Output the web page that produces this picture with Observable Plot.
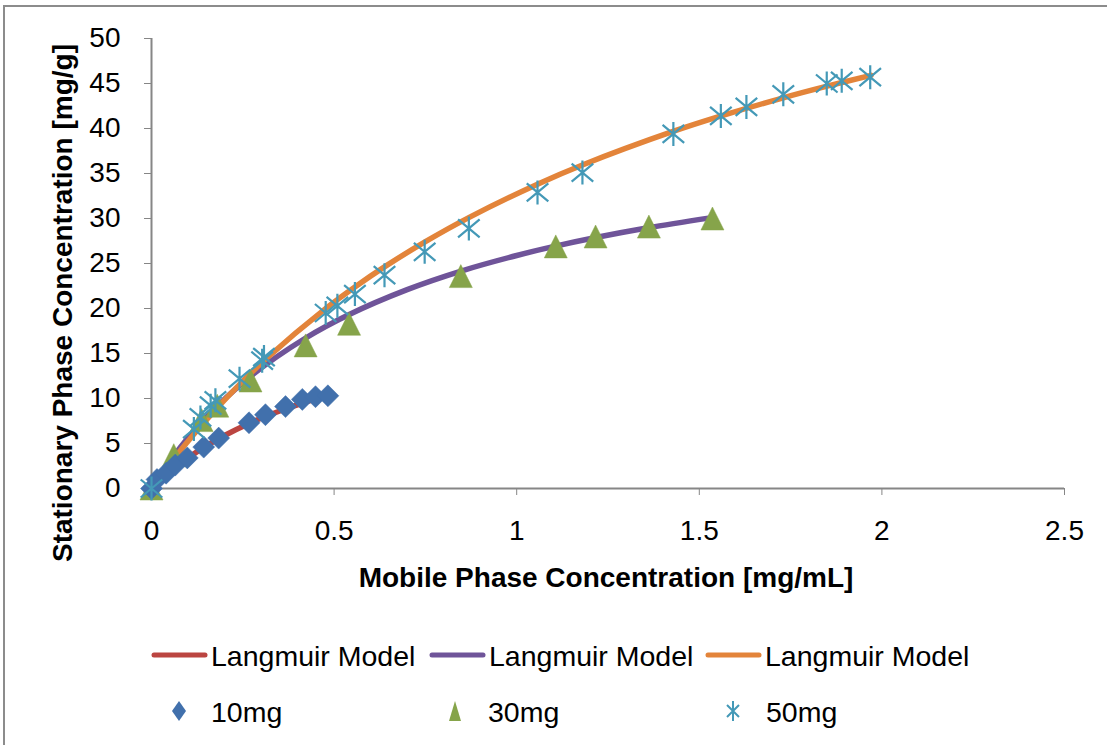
<!DOCTYPE html>
<html>
<head>
<meta charset="utf-8">
<script src="https://cdn.jsdelivr.net/npm/d3@7"></script>
<script src="https://cdn.jsdelivr.net/npm/@observablehq/plot@0.6"></script>
<style>
  html, body { margin: 0; padding: 0; background: #fff; }
  #wrap { position: relative; width: 1107px; height: 745px; overflow: hidden; background: #fff; font-family: "Liberation Sans", Arial, sans-serif; }
  #frame { position: absolute; left: 3px; top: 5px; width: 1110px; height: 750px; border-left: 2px solid #8c8c8c; border-top: 2px solid #8c8c8c; box-sizing: border-box; }
  #chart { position: absolute; left: 0; top: 0; }
  .leg { position: absolute; font-size: 28.5px; color: #000; line-height: 1; transform: translateY(-50%); white-space: nowrap; }
  .sw { position: absolute; overflow: visible; }
  #ytitle { position: absolute; left: 63px; top: 303px; font-size: 28px; font-weight: bold; color: #000; white-space: nowrap; line-height: 1; transform: translate(-50%, -50%) rotate(-90deg); }
</style>
</head>
<body>
<div id="wrap">
  <div id="frame"></div>
  <div id="chart"></div>
  <div id="ytitle">Stationary Phase Concentration [mg/g]</div>
  <div id="legend"></div>
</div>
<script>
// ---- data ----
const xTicks = [0, 0.5, 1, 1.5, 2, 2.5];
const yTicks = [0, 5, 10, 15, 20, 25, 30, 35, 40, 45, 50];

const mg10X = [0, 0.015, 0.04, 0.065, 0.098, 0.143, 0.184, 0.267, 0.312, 0.367, 0.413, 0.449, 0.483];
const mg10Y = [0, 1.0, 1.7, 2.6, 3.4, 4.6, 5.6, 7.3, 8.2, 9.1, 9.9, 10.2, 10.3];

const mg30X = [0, 0.061, 0.137, 0.18, 0.271, 0.422, 0.541, 0.847, 1.107, 1.216, 1.362, 1.536];
const mg30Y = [0, 3.7, 7.6, 9.2, 12.0, 15.9, 18.3, 23.6, 26.9, 28.0, 29.1, 30.0];

const mg50X = [0, 0.116, 0.134, 0.162, 0.175, 0.241, 0.303, 0.308, 0.477, 0.509, 0.557, 0.638, 0.748, 0.869, 1.057, 1.18, 1.429, 1.559, 1.629, 1.73, 1.849, 1.89, 1.968];
const mg50Y = [0, 6.6, 7.9, 9.2, 9.8, 12.2, 14.2, 14.6, 19.5, 20.3, 21.6, 23.7, 26.3, 28.9, 32.9, 35.1, 39.4, 41.4, 42.4, 43.8, 45.0, 45.3, 45.7];

const model10X = [0, 0.04, 0.1, 0.15, 0.2, 0.27, 0.31, 0.37, 0.41, 0.45, 0.48];
const model10Y = [0, 1.5, 3.4, 4.74, 5.89, 7.28, 7.97, 8.89, 9.44, 9.95, 10.3];

const model30X = [0, 0.06, 0.14, 0.27, 0.42, 0.54, 0.7, 0.85, 1.0, 1.1, 1.22, 1.36, 1.53];
const model30Y = [0, 3.56, 7.48, 12.43, 16.67, 19.31, 22.1, 24.19, 25.89, 26.87, 27.91, 28.97, 30.07];

const model50X = [0, 0.07, 0.12, 0.18, 0.24, 0.31, 0.48, 0.56, 0.64, 0.75, 0.87, 1.06, 1.18, 1.43, 1.56, 1.73, 1.85, 1.97];
const model50Y = [0, 3.75, 6.22, 8.97, 11.52, 14.27, 20.09, 22.48, 24.68, 27.43, 30.13, 33.87, 35.95, 39.7, 41.4, 43.41, 44.7, 45.9];

const lineNames = ["Langmuir Model", "Langmuir Model", "Langmuir Model"];
const seriesNames = ["10mg", "30mg", "50mg"];

// ---- styles ----
const C = {
  red: "#BB4541", purple: "#6F5499", orange: "#E3843A",
  blue: "#4170AC", green: "#86A44A", teal: "#4499B7", axis: "#868686"
};
const FONT = "Liberation Sans, Arial, sans-serif";

const pts = (X, Y) => X.map((x, i) => ({x, y: Y[i]}));

const R = (size) => Math.sqrt(size / Math.PI);
const diamondSym = {draw(ctx, size) { const r = R(size); ctx.moveTo(0, -r); ctx.lineTo(r, 0); ctx.lineTo(0, r); ctx.lineTo(-r, 0); ctx.closePath(); }};
const triSym = {draw(ctx, size) { const r = R(size); ctx.moveTo(0, -r); ctx.lineTo(r, r); ctx.lineTo(-r, r); ctx.closePath(); }};
const starSym = {draw(ctx, size) { const r = R(size);
  ctx.moveTo(0, -r); ctx.lineTo(0, r);
  ctx.moveTo(-0.9 * r, -0.75 * r); ctx.lineTo(0.9 * r, 0.75 * r);
  ctx.moveTo(-0.9 * r, 0.75 * r); ctx.lineTo(0.9 * r, -0.75 * r); }};

const lineOpts = (stroke) => ({x: "x", y: "y", stroke, strokeWidth: 5.5, curve: "catmull-rom", strokeLinecap: "round", strokeLinejoin: "round"});

const chart = Plot.plot({
  width: 1107,
  height: 610,
  marginLeft: 151,
  marginRight: 43,
  marginTop: 38,
  marginBottom: 122,
  style: {fontFamily: FONT, fontSize: "28px", color: "#000", background: "transparent", overflow: "visible"},
  x: {domain: [0, 2.5]},
  y: {domain: [0, 50]},
  marks: [
    Plot.axisY({ticks: yTicks, tickSize: 7, color: C.axis, tickFormat: () => "", label: null}),
    Plot.axisY({ticks: yTicks, tickSize: 0, tickPadding: 31, color: "#000", fontSize: 28, label: null}),
    Plot.axisX({ticks: xTicks, tickSize: 7, color: C.axis, tickFormat: () => "", label: null}),
    Plot.axisX({ticks: xTicks, tickSize: 0, tickPadding: 32, color: "#000", fontSize: 28, tickFormat: d => String(d), label: null}),
    Plot.ruleX([0], {stroke: C.axis, strokeWidth: 2}),
    Plot.ruleY([0], {stroke: C.axis, strokeWidth: 2}),
    Plot.text(["Mobile Phase Concentration [mg/mL]"], {frameAnchor: "bottom", dy: 98, dx: -2, fontWeight: "bold", fontSize: 28, fill: "#000"}),
    Plot.line(pts(model10X, model10Y), lineOpts(C.red)),
    Plot.line(pts(model30X, model30Y), lineOpts(C.purple)),
    Plot.line(pts(model50X, model50Y), lineOpts(C.orange)),
    Plot.dot(pts(mg30X, mg30Y), {x: "x", y: "y", symbol: triSym, r: 11.5, fill: C.green, stroke: C.green, strokeWidth: 0.5}),
    Plot.dot(pts(mg10X, mg10Y), {x: "x", y: "y", symbol: diamondSym, r: 11, fill: C.blue, stroke: C.blue, strokeWidth: 0.5}),
    Plot.dot(pts(mg50X, mg50Y), {x: "x", y: "y", symbol: starSym, r: 12, fill: "none", stroke: C.teal, strokeWidth: 2.2})
  ]
});
document.getElementById("chart").appendChild(chart);

// ---- legend ----
const legend = document.getElementById("legend");
const lineColors = [C.red, C.purple, C.orange];
const lineX = [152, 430, 706];
lineNames.forEach((name, i) => {
  const svg = document.createElementNS("http://www.w3.org/2000/svg", "svg");
  svg.setAttribute("class", "sw");
  svg.setAttribute("width", 56); svg.setAttribute("height", 10);
  svg.style.left = (lineX[i]) + "px"; svg.style.top = "650px";
  svg.innerHTML = `<line x1="2" y1="5" x2="53" y2="5" stroke="${lineColors[i]}" stroke-width="5" stroke-linecap="round"/>`;
  legend.appendChild(svg);
  const t = document.createElement("div");
  t.className = "leg"; t.textContent = name;
  t.style.left = (lineX[i] + 59) + "px"; t.style.top = "656px";
  legend.appendChild(t);
});
const symX = [179, 455, 733];
const textX = [211, 488, 766];
const symSvg = [
  `<path d="M10,0 L17,10 L10,20 L3,10 Z" fill="${C.blue}"/>`,
  `<path d="M10,0 L16,20 L4,20 Z" fill="${C.green}"/>`,
  `<path d="M10,0 L10,20 M4,4 L16,16 M4,16 L16,4" stroke="${C.teal}" stroke-width="2" fill="none"/>`
];
seriesNames.forEach((name, i) => {
  const svg = document.createElementNS("http://www.w3.org/2000/svg", "svg");
  svg.setAttribute("class", "sw");
  svg.setAttribute("width", 20); svg.setAttribute("height", 20);
  svg.style.left = (symX[i] - 10) + "px"; svg.style.top = "701px";
  svg.innerHTML = symSvg[i];
  legend.appendChild(svg);
  const t = document.createElement("div");
  t.className = "leg"; t.textContent = name;
  t.style.left = textX[i] + "px"; t.style.top = "712px";
  legend.appendChild(t);
});
</script>
</body>
</html>
